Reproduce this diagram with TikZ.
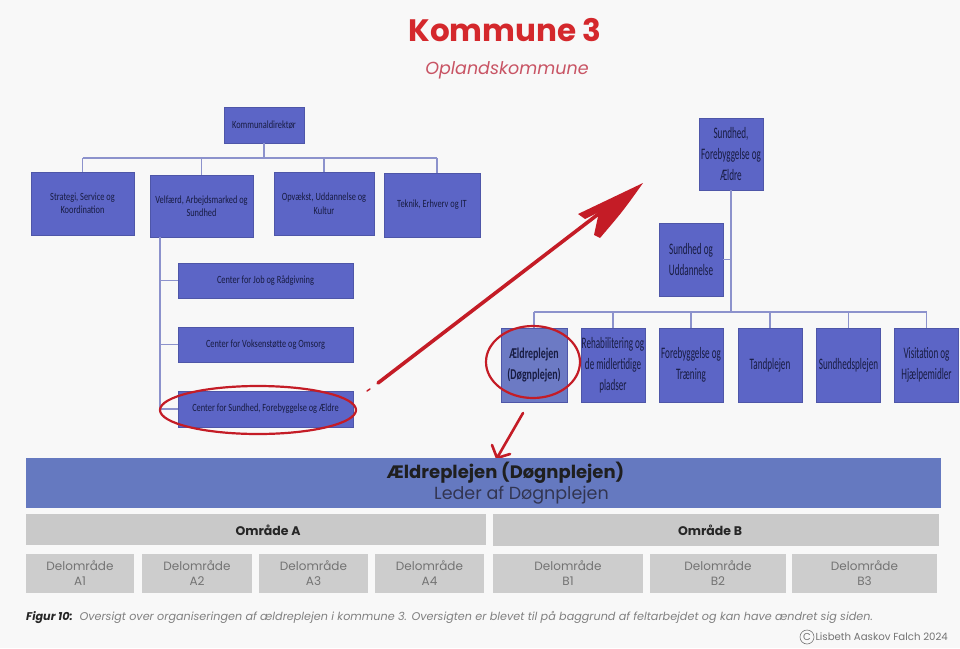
\documentclass[tikz,border=0pt]{standalone}
\usepackage{fontspec}
\usetikzlibrary{shapes.geometric}
\setmainfont{Poppins}
\newfontfamily\orgL[FakeStretch=0.76]{Carlito}
\newfontfamily\orgR[FakeStretch=0.57]{Carlito}
\newfontfamily\orgRb[FakeStretch=0.66]{Carlito}
\definecolor{pagebg}{RGB}{248,248,248}
\definecolor{orgblue}{RGB}{92,101,198}
\definecolor{orgblue2}{RGB}{108,122,196}
\definecolor{orgline}{RGB}{140,146,204}
\definecolor{orgtext}{RGB}{24,28,66}
\definecolor{barblue}{RGB}{101,121,192}
\definecolor{areagray}{RGB}{201,201,201}
\definecolor{subgray}{RGB}{205,205,205}
\definecolor{titlered}{RGB}{212,40,44}
\definecolor{subred}{RGB}{200,84,100}
\definecolor{penred}{RGB}{196,28,38}
\begin{document}
\begin{tikzpicture}[x=1pt,y=-1pt,
  orgbox/.style={fill=orgblue, draw=orgblue!85!black, line width=0.4pt, inner sep=1pt,
    align=center, text=orgtext},
  lbox/.style={orgbox, font=\orgL\fontsize{11}{13.5}\selectfont},
  rbox/.style={orgbox, font=\orgR\fontsize{16}{21}\selectfont,
    minimum width=64pt, minimum height=74pt},
  link/.style={draw=orgline, line width=1.4pt},
  ring/.style={draw=penred, line width=2.2pt},
  pen/.style={draw=penred, line width=3pt, line cap=round, line join=round},
  areabox/.style={fill=areagray, inner sep=0pt},
  arealabel/.style={font=\bfseries\fontsize{12.5}{14}\selectfont, text=black!85},
  subbox/.style={fill=subgray, inner sep=0pt, align=center, minimum height=39pt,
    font=\fontsize{12}{15}\selectfont, text=black!55},
]
\fill[pagebg] (0,0) rectangle (960,648);
\path[use as bounding box] (0,0) rectangle (960,648);

% heading
\node[font=\bfseries\fontsize{31}{34}\selectfont, text=titlered] (title) at (505,30) {Kommune 3};
\node[font=\itshape\fontsize{17.5}{19}\selectfont, text=subred] (subtitle) at (507,70) {Oplandskommune};

% ---------- left organisation chart ----------
\node[lbox, minimum width=80pt, minimum height=36pt] (kd) at (264,125) {Kommunaldirektør};
\node[lbox, minimum width=103pt, minimum height=63pt] (s1) at (82.5,203.5) {Strategi, Service og\\Koordination};
\node[lbox, minimum width=103pt, minimum height=62pt] (s2) at (201.5,206) {Velfærd, Arbejdsmarked og\\Sundhed};
\node[lbox, minimum width=100pt, minimum height=63pt] (s3) at (324,203.5) {Opvækst, Uddannelse og\\Kultur};
\node[lbox, minimum width=96pt, minimum height=64pt] (s4) at (432,205) {Teknik, Erhverv og IT};
\node[lbox, minimum width=175pt, minimum height=35pt] (c1) at (265.5,280.5) {Center for Job og Rådgivning};
\node[lbox, minimum width=175pt, minimum height=35pt] (c2) at (265.5,344.5) {Center for Voksenstøtte og Omsorg};
\node[lbox, minimum width=175pt, minimum height=36pt] (c3) at (265.5,409) {Center for Sundhed, Forebyggelse og Ældre};

\coordinate (lbar) at (0,158);
\coordinate (lspine) at (160,0);
\draw[link] (kd.south) -- (kd.south |- lbar);
\draw[link] (s1.north |- lbar) -- ([xshift=5pt]s4.north |- lbar);
\foreach \b in {s1,s2,s3} \draw[link] (\b.north |- lbar) -- (\b.north);
\draw[link] ([xshift=5pt]s4.north |- lbar) -- ([xshift=5pt]s4.north);
\draw[link] (lspine |- s2.south) -- (lspine |- c3.west);
\foreach \b in {c1,c2,c3} \draw[link] (lspine |- \b.west) -- (\b.west);

% ---------- right organisation chart ----------
\node[rbox, minimum height=72pt] (r0) at (731,154) {Sundhed,\\Forebyggelse og\\Ældre};
\node[rbox, minimum height=73pt] (r1) at (691,259.5) {Sundhed og\\Uddannelse};
\node[rbox, fill=orgblue2, minimum width=66pt, font=\orgRb\bfseries\fontsize{15}{21}\selectfont] (u1) at (534,365) {Ældreplejen\\(Døgnplejen)};
\node[rbox] (u2) at (613,365) {Rehabilitering og\\de midlertidige\\pladser};
\node[rbox] (u3) at (691,365) {Forebyggelse og\\Træning};
\node[rbox] (u4) at (770,365) {Tandplejen};
\node[rbox] (u5) at (848.5,365) {Sundhedsplejen};
\node[rbox] (u6) at (926.5,365) {Visitation og\\Hjælpemidler};

\coordinate (rbar) at (0,312);
\draw[link] (r0.south) -- (r0.south |- rbar);
\draw[link] (r1.east) -- (r0.south |- r1.east);
\draw[link] (u1.north |- rbar) -- (u6.north |- rbar);
\foreach \b in {u1,u2,u3,u4,u5,u6} \draw[link] (\b.north |- rbar) -- (\b.north);

% ---------- hand-drawn red marks ----------
\node[ring, ellipse, minimum width=196pt, minimum height=48pt, inner sep=0pt] (ringA) at (258,410) {};
\node[ring, ellipse, minimum width=94pt, minimum height=72pt, inner sep=0pt] (ringB) at (533,362) {};

\coordinate (bigtail) at (378,383);
\coordinate (bigtip) at (643,183);
\draw[pen, line width=1.5pt] ([shift={(-11,8)}]bigtail) -- ([shift={(-8,6)}]bigtail);
\draw[pen, line width=3.6pt] (bigtail) -- ([shift={(-42,29)}]bigtip);
\fill[penred] (bigtip) -- ([shift={(-65,31)}]bigtip) -- ([shift={(-58,36)}]bigtip)
  -- ([shift={(-44,29)}]bigtip) -- ([shift={(-49,52)}]bigtip) -- ([shift={(-43,55)}]bigtip)
  .. controls ([shift={(-20,28)}]bigtip) .. cycle;

\coordinate (smalltail) at (523,413);
\coordinate (smalltip) at (497,458);
\draw[pen, line width=2.6pt] (smalltail) -- (smalltip)
  -- ([shift={(-5,-13)}]smalltip);
\draw[pen, line width=2.6pt] (smalltip) -- ([shift={(13,-4)}]smalltip);

% ---------- elderly care structure ----------
\node[fill=barblue, minimum width=915pt, minimum height=50pt, inner sep=0pt] (care) at (483.5,483) {};
\node[font=\bfseries\fontsize{18}{20}\selectfont, text=black!88] (caretitle) at (505.5,473) {Ældreplejen (Døgnplejen)};
\node[font=\fontsize{17.5}{19}\selectfont, text=orgtext!75!gray] (carelead) at (521.5,495) {Leder af Døgnplejen};

\node[areabox, minimum width=460pt, minimum height=31pt] (areaA) at (256,529.5) {};
\node[areabox, minimum width=446pt, minimum height=32pt] (areaB) at (716,530) {};
\node[arealabel] (areaAlabel) at (268,530) {Område A};
\node[arealabel] (areaBlabel) at (710,530) {Område B};

\node[subbox, minimum width=108pt] (a1) at (80,573.5) {Delområde\\A1};
\node[subbox, minimum width=110pt] (a2) at (197,573.5) {Delområde\\A2};
\node[subbox, minimum width=109pt] (a3) at (313.5,573.5) {Delområde\\A3};
\node[subbox, minimum width=109pt] (a4) at (429.5,573.5) {Delområde\\A4};
\node[subbox, minimum width=150pt] (b1) at (568,573.5) {Delområde\\B1};
\node[subbox, minimum width=136pt] (b2) at (718,573.5) {Delområde\\B2};
\node[subbox, minimum width=145pt] (b3) at (864.5,573.5) {Delområde\\B3};

% ---------- caption and credit ----------
\node[anchor=west, inner sep=0pt, font=\itshape\fontsize{11.2}{13}\selectfont, text=black!50] (caption) at (26,617)
  {\textcolor{black!85}{\bfseries Figur 10:}\ \ Oversigt over organiseringen af ældreplejen i kommune 3. Oversigten er blevet til på baggrund af feltarbejdet og kan have ændret sig siden.};
\node[anchor=east, inner sep=0pt, font=\fontsize{10.2}{11}\selectfont, text=black!55] (credit) at (948,637) {Lisbeth Aaskov Falch 2024};
\node[circle, draw=black!55, line width=0.6pt, inner sep=0.6pt, minimum size=14pt, text=black!55,
  font=\fontsize{10}{11}\selectfont, anchor=east] (copy) at ([xshift=-1pt]credit.west) {C};
\end{tikzpicture}
\end{document}
